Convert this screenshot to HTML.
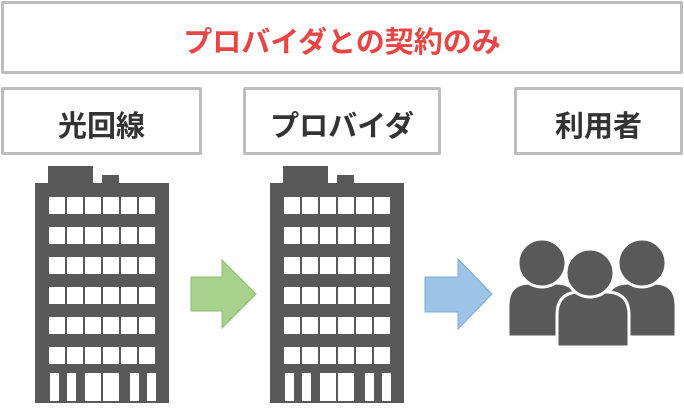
<!DOCTYPE html>
<html><head><meta charset="utf-8"><style>
body{margin:0;width:684px;height:412px;background:#fff;overflow:hidden;position:relative;font-family:"Liberation Sans","Noto Sans CJK JP",sans-serif}
.b{position:absolute;box-sizing:border-box;border:3px solid #bdbdbd;border-radius:2px;background:#fff;display:flex;align-items:center;justify-content:center;font-weight:bold;font-size:29px;color:#333}
</style></head><body>
<div class="b" style="left:1px;top:1px;width:682px;height:73px;color:#e84545;padding-top:4px">プロバイダとの契約のみ</div>
<div class="b" style="left:1px;top:87px;width:201px;height:68px;padding-top:6px">光回線</div>
<div class="b" style="left:243px;top:87px;width:198px;height:68px;padding-top:6px">プロバイダ</div>
<div class="b" style="left:514px;top:87px;width:169px;height:68px;padding-top:6px">利用者</div>
<svg width="684" height="412" style="position:absolute;left:0;top:0">
<defs>
<g id="bld">
<rect x="48" y="166" width="45" height="18" fill="#595959"/>
<rect x="102" y="175" width="17" height="9" fill="#595959"/>
<rect x="35" y="183" width="134" height="220" fill="#595959"/>
<g fill="#fff">
<g id="row"><rect x="49" y="197" width="16" height="17"/><rect x="67" y="197" width="16" height="17"/><rect x="85" y="197" width="16" height="17"/><rect x="103" y="197" width="16" height="17"/><rect x="121" y="197" width="16" height="17"/><rect x="139" y="197" width="16" height="17"/></g>
<use href="#row" y="30"/><use href="#row" y="60"/><use href="#row" y="90"/><use href="#row" y="120"/><use href="#row" y="150"/>
<rect x="50" y="373" width="9" height="28"/><rect x="67" y="373" width="9" height="28"/><rect x="85" y="373" width="16" height="28"/><rect x="103" y="373" width="16" height="28"/><rect x="130" y="373" width="9" height="28"/><rect x="147" y="373" width="9" height="28"/>
</g></g>
</defs>
<use href="#bld"/>
<use href="#bld" x="235"/>
<polygon points="191,277 222,277 222,260 256,294 222,328 222,311 191,311" fill="#a9d18e" stroke="#8bbd6c"/>
<polygon points="425,277 458,277 458,259 492,294 458,329 458,312 425,312" fill="#9dc3e6" stroke="#7ea9d6"/>
<g fill="#595959" stroke="#fff" stroke-width="3">
<path d="M508,337 L508,305 Q508,283 530,283 L556,283 Q578,283 578,305 L578,337 Z"/>
<circle cx="542" cy="263" r="24"/>
<path d="M606,337 L606,305 Q606,283 628,283 L654,283 Q676,283 676,305 L676,337 Z"/>
<circle cx="642" cy="263" r="24"/>
<path d="M557,347 L557,315 Q557,292 580,292 L606,292 Q629,292 629,315 L629,347 Z"/>
<circle cx="590" cy="273" r="24"/>
</g>
</svg>
</body></html>
